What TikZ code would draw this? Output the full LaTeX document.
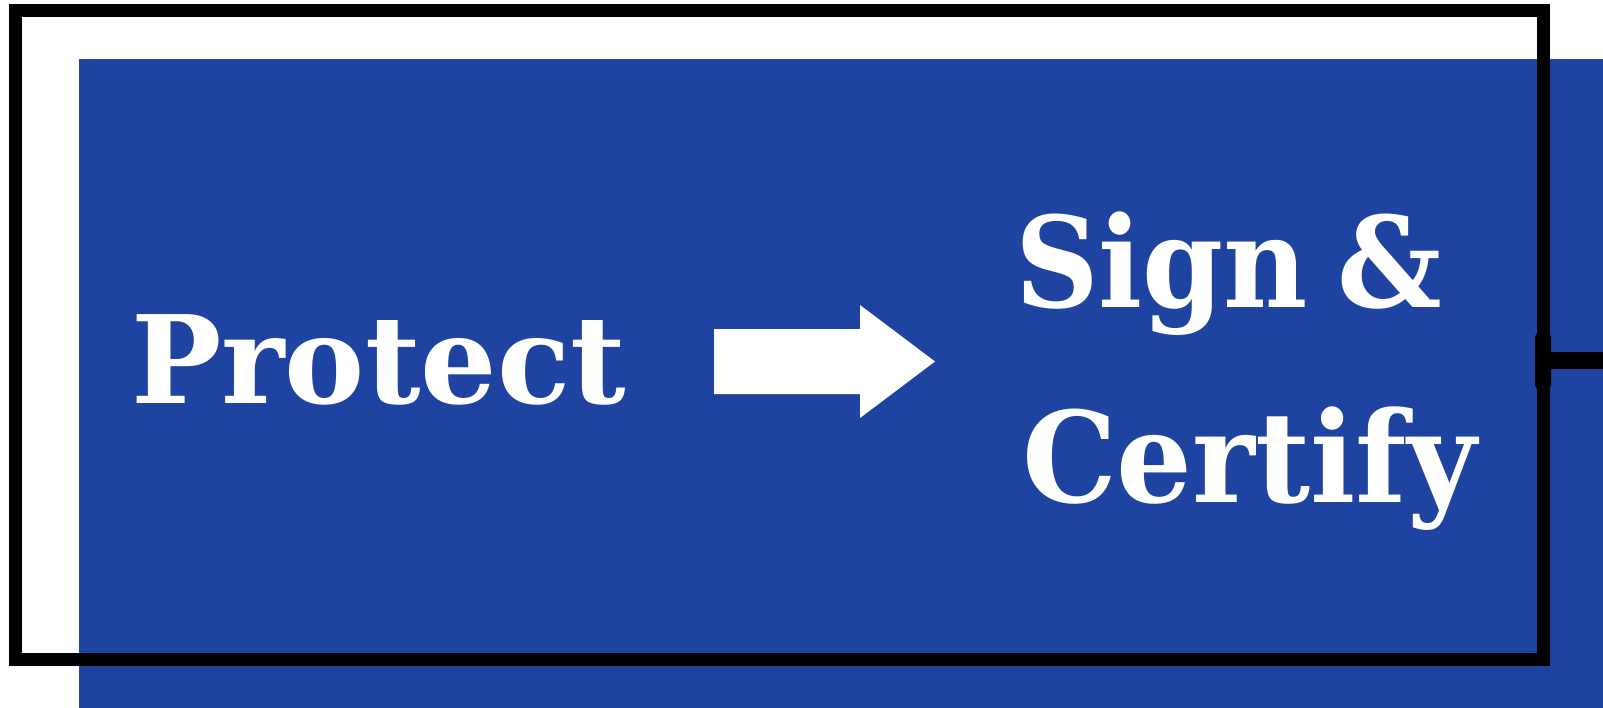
\documentclass[tikz,border=0pt]{standalone}
\usepackage{fontspec}
\setmainfont{DejaVu Serif}
\usetikzlibrary{arrows.meta}
\definecolor{panelblue}{HTML}{1E43A0}
\begin{document}
\begin{tikzpicture}[x=1pt,y=-1pt,
  lbl/.style={text=white, inner sep=0pt, outer sep=0pt, anchor=base west},
  framebox/.style={draw=black, line width=13pt, inner sep=0pt, outer sep=0pt, anchor=north west},
  conn/.style={draw=black, line width=17pt}]
\useasboundingbox (0,0) rectangle (1603,707);
\fill[white] (0,0) rectangle (1603,707);
\node[fill=panelblue, inner sep=0pt, outer sep=0pt, anchor=north west, minimum width=1530pt, minimum height=650pt] (panel) at (79,59) {};
\node[framebox, minimum width=1528pt, minimum height=649.5pt] (frame) at (15.5,10) {};
\node[lbl, font=\fontsize{122}{140}\selectfont\bfseries] (protect) at (131,403) {\scalebox{0.986}[1]{Protect}};
\node[lbl, font=\fontsize{126}{140}\selectfont\bfseries] (sign) at (1015,307) {\scalebox{0.92}[1]{Sign\hspace{0.25em}\&}};
\node[lbl, font=\fontsize{126}{140}\selectfont\bfseries] (certify) at (1022,502) {\scalebox{0.946}[1]{Certify}};
\fill[white] (714,329) -- (860,329) -- (860,305) -- (935,361.5) -- (860,418) -- (860,394) -- (714,394) -- cycle;
\coordinate (out) at (1620,360.5);
\fill[black, rounded corners=5pt] (1535,332) rectangle (1551,390);
\draw[conn] (out -| frame.east) -- (out);
\end{tikzpicture}
\end{document}
